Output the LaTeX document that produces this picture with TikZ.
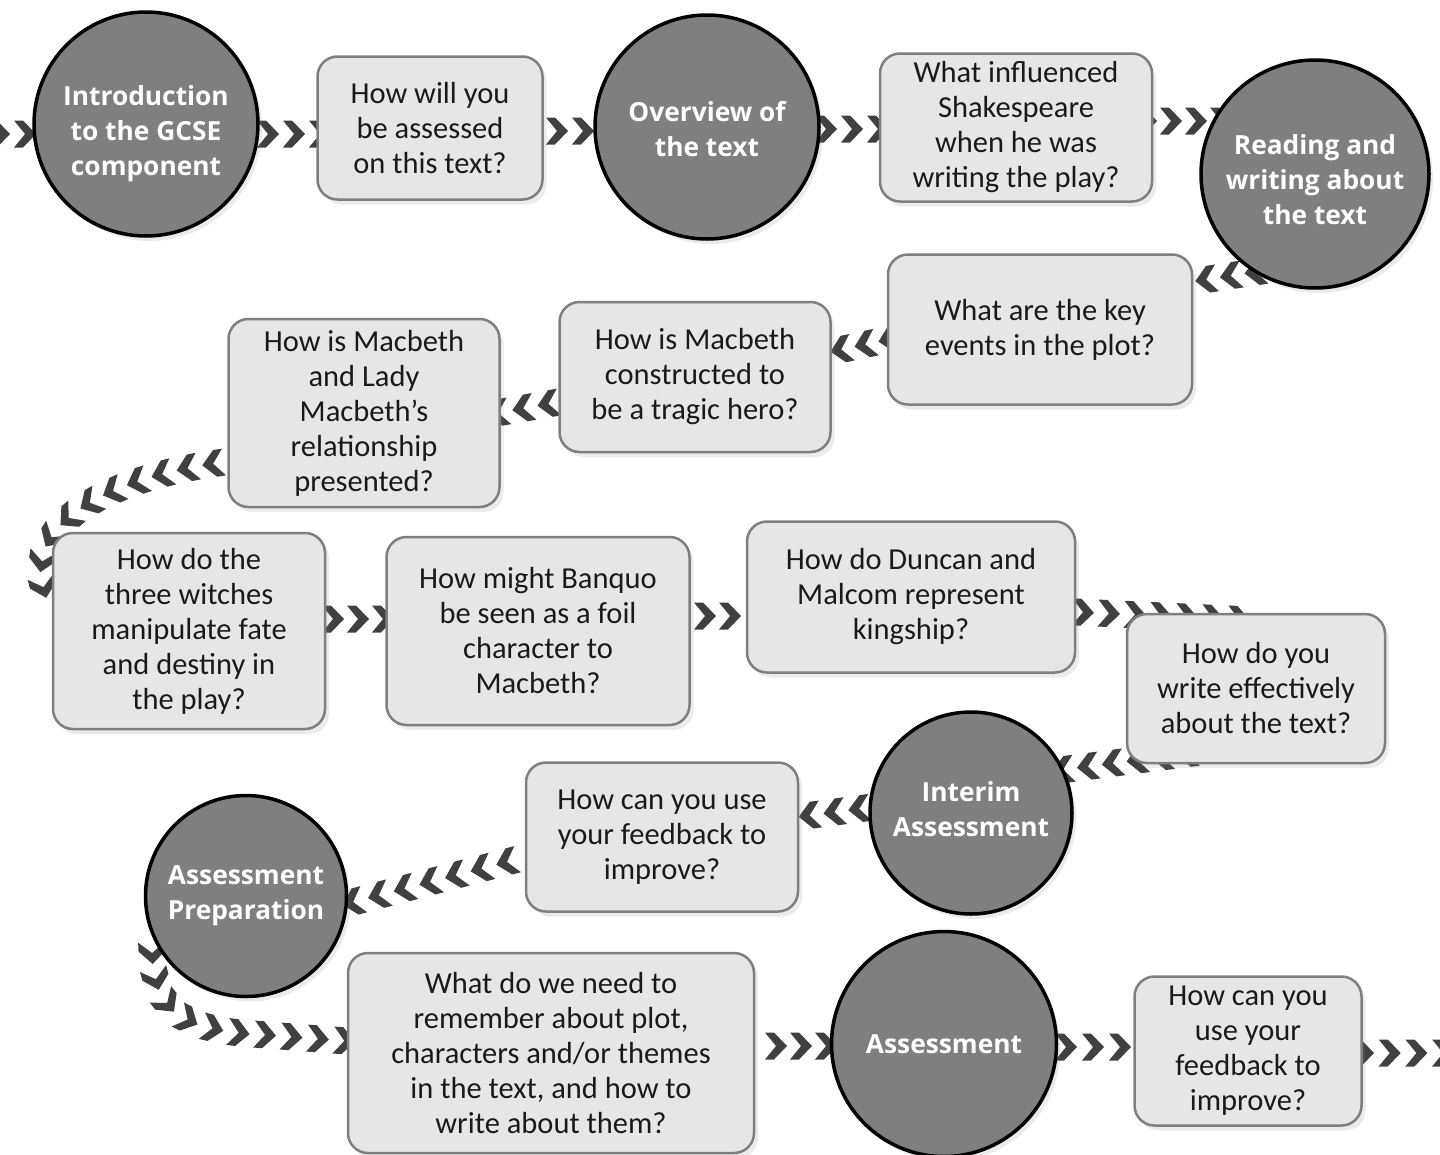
\documentclass[tikz,border=0pt]{standalone}
\usepackage{fontspec}
\setmainfont{Carlito}
\newfontfamily\circfont{Open Sans}
\usetikzlibrary{shadows,decorations.markings,backgrounds,calc}
\definecolor{boxfill}{HTML}{E6E6E6}
\definecolor{boxline}{HTML}{7F7F7F}
\definecolor{circfill}{HTML}{7F7F7F}
\definecolor{chevcol}{HTML}{404040}
\definecolor{txt}{HTML}{1A1A1A}
\begin{document}
\begin{tikzpicture}[x=1pt,y=-1pt,
  box/.style={draw=boxline, line width=2.5pt, fill=boxfill, rounded corners=20pt,
    align=center, inner sep=0pt, text=txt, font=\fontsize{30.5}{35}\selectfont,
    drop shadow={opacity=0.16, shadow xshift=4pt, shadow yshift=-5pt}},
  circ/.style={circle, draw=black, line width=3.5pt, fill=circfill, inner sep=0pt,
    drop shadow={opacity=0.16, shadow xshift=4pt, shadow yshift=-5pt}},
  ctext/.style={text=white, align=center, inner sep=0pt,
    font=\circfont\bfseries\fontsize{26.3}{35}\selectfont},
  chevs/.style 2 args={postaction={decorate, decoration={markings,
    mark=between positions #1 and 1 step #2 with {\fill[chevcol] (-11,-13.5) -- (-2,-13.5) -- (11,0) -- (-2,13.5) -- (-11,13.5) -- (0,0) -- cycle;}}}}
]
\useasboundingbox (0,0) rectangle (1440,1154);

\node[circ, minimum size=224, label={[ctext, yshift=-10pt]center:{Introduction\\to the GCSE\\component}}] (c1) at (146,124) {};
\node[box, minimum width=225, minimum height=143] (b1) at (430,128) {How will you\\be assessed\\on this text?};
\node[circ, minimum size=224, label={[ctext, yshift=-2pt]center:{Overview of\\the text}}] (c2) at (707,127) {};
\node[box, minimum width=272, minimum height=148] (b2) at (1016,127.5) {What influenced\\Shakespeare\\when he was\\writing the play?};
\node[circ, minimum size=228, label={[ctext, yshift=-6pt]center:{Reading and\\writing about\\the text}}] (c3) at (1315,174) {};
\node[box, minimum width=304, minimum height=150] (b3) at (1040,329.5) {What are the key\\events in the plot?};
\node[box, minimum width=271, minimum height=150] (b4) at (695,377) {How is Macbeth\\constructed to\\be a tragic hero?};
\node[box, minimum width=271, minimum height=188] (b5) at (364,413) {How is Macbeth\\and Lady\\Macbeth’s\\relationship\\presented?};
\node[box, minimum width=272, minimum height=196] (b6) at (189,631) {How do the\\three witches\\manipulate fate\\and destiny in\\the play?};
\node[box, minimum width=303, minimum height=188] (b7) at (538,631) {How might Banquo\\be seen as a foil\\character to\\Macbeth?};
\node[box, minimum width=328, minimum height=151] (b8) at (911,597) {How do Duncan and\\Malcom represent\\kingship?};
\node[box, minimum width=258, minimum height=149] (b9) at (1256,688.5) {How do you\\write effectively\\about the text?};
\node[circ, minimum size=202, label={[ctext, yshift=4pt]center:{Interim\\Assessment}}] (c4) at (971,813) {};
\node[box, minimum width=272, minimum height=149] (b10) at (662,837) {How can you use\\your feedback to\\improve?};
\node[circ, minimum size=201, label={[ctext]center:{Assessment\\Preparation}}] (c5) at (246,896) {};
\node[box, minimum width=406, minimum height=200] (b11) at (551,1053) {What do we need to\\remember about plot,\\characters and/or themes\\in the text, and how to\\write about them?};
\node[circ, minimum size=225, label={[ctext]center:{Assessment}}] (c6) at (944,1044) {};
\node[box, minimum width=227, minimum height=149] (b12) at (1248,1051) {How can you\\use your\\feedback to\\improve?};

\coordinate (in) at (-40,134);
\coordinate (out) at (1480,1053);

\begin{pgfonlayer}{background}
\path[chevs={39pt}{26pt}] (in) -- ($(c1)+(0,10)$);
\path[chevs={18pt}{26pt}] ($(c1)+(0,10)$) -- ($(b1)+(0,6)$);
\path[chevs={23pt}{26pt}] ($(b1)+(0,3)$) -- ($(c2)+(0,4)$);
\path[chevs={15pt}{26pt}] ($(c2)+(0,2)$) -- ($(b2)+(0,1.5)$);
\path[chevs={30pt}{25pt}] ($(b2)+(0,-6.5)$) -- ($(c3)+(0,-53)$);
\path[chevs={45pt}{25pt}] ($(c3)+(-15,91)$) -- ($(b3)+(150,-47.5)$);
\path[chevs={11pt}{24.5pt}] ($(b3)+(-140,7.5)$) -- ($(b4)+(125,-23)$);
\path[chevs={22pt}{25.5pt}] ($(b4)+(-125,23)$) -- ($(b5)+(116,3)$);
\path[chevs={12pt}{26pt}] ($(b5)+(-139,49)$) .. controls (110,477) and (15,525) .. ($(b6)+(-141,-31)$);
\path[chevs={8pt}{25pt}] ($(b6)+(136,-12)$) -- ($(b7)+(-151,-12)$);
\path[chevs={15pt}{25pt}] ($(b7)+(152,-15)$) -- ($(b8)+(-164,19)$);
\path[chevs={8pt}{26pt}] ($(b8)+(164,15)$) -- ($(b9)+(-6,-68.5)$);
\path[chevs={13pt}{25pt}] ($(b9)+(-56,63.5)$) -- ($(c4)+(89,-43)$);
\path[chevs={21pt}{25pt}] ($(c4)+(-91,-7)$) -- ($(b10)+(128,-19)$);
\path[chevs={15.5pt}{26.5pt}] ($(b10)+(-140,21)$) -- ($(c5)+(84,12)$);
\path[chevs={18pt}{26.5pt}] ($(c5)+(-94,39)$) .. controls (150,1005) and (175,1025) .. (240,1033) -- ($(b11)+(-191,-11)$);
\path[chevs={22pt}{25pt}] ($(b11)+(203,-7)$) -- ($(c6)+(0,2)$);
\path[chevs={10pt}{27pt}] ($(c6)+(112,3)$) -- ($(b12)+(-113,-4)$);
\path[chevs={1pt}{26.7pt}] ($(b12)+(114,2)$) -- (out);
\end{pgfonlayer}
\end{tikzpicture}
\end{document}
